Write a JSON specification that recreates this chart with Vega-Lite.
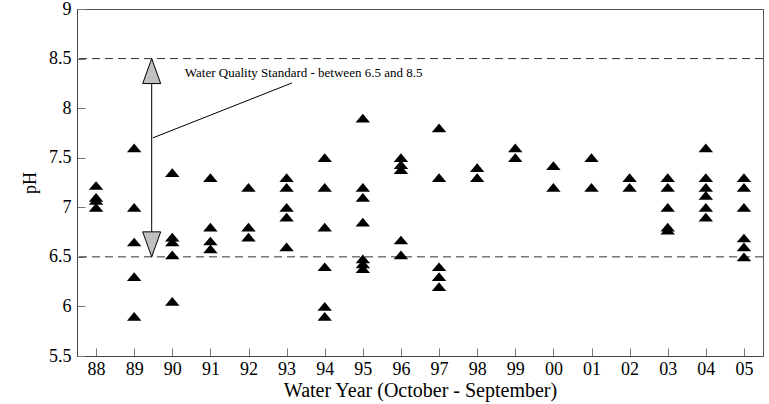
{
  "$schema": "https://vega.github.io/schema/vega-lite/v6.json",
  "width": 686,
  "height": 347,
  "padding": {"left": 77, "top": 9, "right": 6, "bottom": 48},
  "autosize": "none",
  "background": "white",
  "config": {
    "view": {"stroke": "#555", "strokeWidth": 1},
    "font": "Liberation Serif",
    "axis": {"labelFont": "Liberation Serif", "titleFont": "Liberation Serif", "labelColor": "black", "titleColor": "black", "titleFontWeight": "normal", "domainColor": "#444", "tickColor": "#777", "grid": false}
  },
  "datasets": {
    "ph": [
      {"year": "88", "pH": 7.22}, {"year": "88", "pH": 7.1}, {"year": "88", "pH": 7.07}, {"year": "88", "pH": 7.0},
      {"year": "89", "pH": 7.6}, {"year": "89", "pH": 7.0}, {"year": "89", "pH": 6.65}, {"year": "89", "pH": 6.3}, {"year": "89", "pH": 5.9},
      {"year": "90", "pH": 7.35}, {"year": "90", "pH": 6.7}, {"year": "90", "pH": 6.65}, {"year": "90", "pH": 6.52}, {"year": "90", "pH": 6.05},
      {"year": "91", "pH": 7.3}, {"year": "91", "pH": 6.8}, {"year": "91", "pH": 6.66}, {"year": "91", "pH": 6.58},
      {"year": "92", "pH": 7.2}, {"year": "92", "pH": 6.8}, {"year": "92", "pH": 6.7},
      {"year": "93", "pH": 7.3}, {"year": "93", "pH": 7.2}, {"year": "93", "pH": 7.0}, {"year": "93", "pH": 6.9}, {"year": "93", "pH": 6.6},
      {"year": "94", "pH": 7.5}, {"year": "94", "pH": 7.2}, {"year": "94", "pH": 6.8}, {"year": "94", "pH": 6.4}, {"year": "94", "pH": 6.0}, {"year": "94", "pH": 5.9},
      {"year": "95", "pH": 7.9}, {"year": "95", "pH": 7.2}, {"year": "95", "pH": 7.1}, {"year": "95", "pH": 6.85}, {"year": "95", "pH": 6.48}, {"year": "95", "pH": 6.43}, {"year": "95", "pH": 6.38},
      {"year": "96", "pH": 7.5}, {"year": "96", "pH": 7.43}, {"year": "96", "pH": 7.38}, {"year": "96", "pH": 6.67}, {"year": "96", "pH": 6.52},
      {"year": "97", "pH": 7.8}, {"year": "97", "pH": 7.3}, {"year": "97", "pH": 6.4}, {"year": "97", "pH": 6.3}, {"year": "97", "pH": 6.2},
      {"year": "98", "pH": 7.4}, {"year": "98", "pH": 7.3},
      {"year": "99", "pH": 7.6}, {"year": "99", "pH": 7.5},
      {"year": "00", "pH": 7.42}, {"year": "00", "pH": 7.2},
      {"year": "01", "pH": 7.5}, {"year": "01", "pH": 7.2},
      {"year": "02", "pH": 7.3}, {"year": "02", "pH": 7.2},
      {"year": "03", "pH": 7.3}, {"year": "03", "pH": 7.2}, {"year": "03", "pH": 7.0}, {"year": "03", "pH": 6.8}, {"year": "03", "pH": 6.77},
      {"year": "04", "pH": 7.6}, {"year": "04", "pH": 7.3}, {"year": "04", "pH": 7.2}, {"year": "04", "pH": 7.12}, {"year": "04", "pH": 7.0}, {"year": "04", "pH": 6.9},
      {"year": "05", "pH": 7.3}, {"year": "05", "pH": 7.2}, {"year": "05", "pH": 7.0}, {"year": "05", "pH": 6.69}, {"year": "05", "pH": 6.6}, {"year": "05", "pH": 6.5}
    ]
  },
  "layer": [
    {
      "data": {"values": [{"y": 8.5}, {"y": 6.5}]},
      "mark": {"type": "rule", "color": "#333", "strokeWidth": 1, "strokeDash": [8, 5]},
      "encoding": {
        "y": {
          "field": "y", "type": "quantitative",
          "scale": {"domain": [5.5, 9], "nice": false, "zero": false},
          "axis": {"title": "pH", "values": [5.5, 6, 6.5, 7, 7.5, 8, 8.5, 9], "labelExpr": "'' + datum.value", "labelFontSize": 18, "titleFontSize": 18, "tickSize": -8, "labelPadding": 14, "titlePadding": 9}
        }
      }
    },
    {
      "data": {"name": "ph"},
      "mark": {"type": "point", "shape": "M0,-0.6L1,0.6L-1,0.6Z", "filled": true, "color": "black", "opacity": 1, "size": 210},
      "encoding": {
        "x": {
          "field": "year", "type": "ordinal",
          "scale": {"type": "point", "padding": 0.5, "domain": ["88","89","90","91","92","93","94","95","96","97","98","99","00","01","02","03","04","05"]},
          "axis": {"title": "Water Year (October - September)", "labelAngle": 0, "labelFontSize": 18, "titleFontSize": 20, "tickSize": -8, "labelPadding": 12, "titlePadding": 2, "domainColor": "#444"}
        },
        "y": {"field": "pH", "type": "quantitative"}
      }
    },
    {
      "layer": [
        {
          "data": {"values": [{"x": 1.96, "y": 8.5, "y2": 6.5}]},
          "mark": {"type": "rule", "color": "black", "strokeWidth": 1},
          "encoding": {
            "x": {"field": "x", "type": "quantitative", "scale": {"domain": [0, 18], "nice": false, "zero": false}, "axis": null},
            "y": {"field": "y", "type": "quantitative"},
            "y2": {"field": "y2"}
          }
        },
        {
          "data": {"values": [{"x": 1.99, "y": 7.7, "x2": 5.64, "y2": 8.254}]},
          "mark": {"type": "rule", "color": "black", "strokeWidth": 1},
          "encoding": {
            "x": {"field": "x", "type": "quantitative", "scale": {"domain": [0, 18], "nice": false, "zero": false}, "axis": null},
            "y": {"field": "y", "type": "quantitative"},
            "x2": {"field": "x2"},
            "y2": {"field": "y2"}
          }
        },
        {
          "data": {"values": [{"x": 1.96, "y": 8.5}]},
          "mark": {"type": "point", "shape": "M0,0L0.72,2L-0.72,2Z", "filled": true, "fill": "#c0c0c0", "stroke": "black", "strokeWidth": 1, "opacity": 1, "size": 625},
          "encoding": {
            "x": {"field": "x", "type": "quantitative", "scale": {"domain": [0, 18], "nice": false, "zero": false}, "axis": null},
            "y": {"field": "y", "type": "quantitative"}
          }
        },
        {
          "data": {"values": [{"x": 1.96, "y": 6.5}]},
          "mark": {"type": "point", "shape": "M0,0L0.72,-2L-0.72,-2Z", "filled": true, "fill": "#c0c0c0", "stroke": "black", "strokeWidth": 1, "opacity": 1, "size": 625},
          "encoding": {
            "x": {"field": "x", "type": "quantitative", "scale": {"domain": [0, 18], "nice": false, "zero": false}, "axis": null},
            "y": {"field": "y", "type": "quantitative"}
          }
        },
        {
          "data": {"values": [{"x": 2.83, "y": 8.355, "label": "Water Quality Standard - between 6.5 and 8.5"}]},
          "mark": {"type": "text", "align": "left", "baseline": "middle", "font": "Liberation Serif", "fontSize": 13, "color": "black"},
          "encoding": {
            "x": {"field": "x", "type": "quantitative", "scale": {"domain": [0, 18], "nice": false, "zero": false}, "axis": null},
            "y": {"field": "y", "type": "quantitative"},
            "text": {"field": "label"}
          }
        }
      ]
    }
  ],
  "resolve": {"scale": {"x": "independent"}}
}
